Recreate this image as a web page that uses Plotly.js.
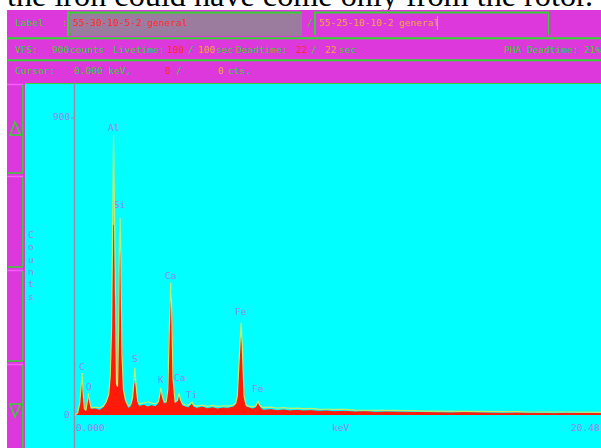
<!DOCTYPE html>
<html>
<head>
<meta charset="utf-8">
<script src="https://cdn.plot.ly/plotly-3.0.1.min.js"></script>
<style>
  html, body { margin: 0; padding: 0; background: #ffffff; width: 601px; height: 448px; overflow: hidden; }
  #caption { position: absolute; left: 0; top: 0; }
  #chart { position: absolute; left: 0; top: 0; width: 601px; height: 448px; }
</style>
</head>
<body>
<svg id="caption" width="601" height="20">
  <text x="7" y="6" font-family="Liberation Serif" font-size="32" textLength="586" lengthAdjust="spacingAndGlyphs">the iron could have come only from the rotor.</text>
</svg>
<div id="chart"></div>
<script>
// ---- spectrum data (energy in keV, counts per channel) ----
const energyKeV = [
  0.00, 0.10, 0.18, 0.23, 0.277, 0.31, 0.36, 0.42, 0.47, 0.525, 0.56, 0.62,
  0.80, 0.95, 1.10, 1.20, 1.30, 1.36, 1.41, 1.45, 1.487, 1.52, 1.56, 1.60,
  1.64, 1.68, 1.71, 1.740, 1.77, 1.81, 1.87, 1.95, 2.05, 2.15, 2.22, 2.27,
  2.308, 2.35, 2.42, 2.50, 2.65, 2.80, 2.95, 3.10, 3.22, 3.27, 3.313, 3.36,
  3.43, 3.52, 3.58, 3.64, 3.691, 3.73, 3.78, 3.86, 3.95, 4.012, 4.06, 4.14,
  4.25, 4.38, 4.46, 4.510, 4.56, 4.70, 4.90, 5.10, 5.30, 5.50, 5.70, 5.90,
  6.10, 6.20, 6.26, 6.33, 6.403, 6.45, 6.52, 6.60, 6.72, 6.85, 6.98, 7.057,
  7.12, 7.25, 7.55, 7.80, 8.05, 8.30, 8.55, 8.80, 9.10, 9.40, 9.70, 10.0,
  10.4, 10.8, 11.2, 11.6, 12.0, 12.5, 13.0, 13.5, 14.0, 14.5, 15.0, 15.5,
  16.0, 16.5, 17.0, 17.5, 18.0, 18.5, 19.0, 19.5, 20.0, 20.48
];
// sample 55-30-10-5-2 (filled)
const countsSampleA = [
  0, 4, 24, 70, 106, 60, 16, 10, 34, 62, 40, 18,
  18, 14, 22, 34, 55, 100, 200, 470, 574, 450, 180, 88,
  80, 200, 420, 492, 400, 160, 65, 38, 20, 24, 40, 80,
  97, 70, 30, 26, 30, 24, 28, 25, 34, 60, 75, 55,
  34, 34, 70, 250, 378, 300, 100, 34, 40, 60, 42, 28,
  24, 22, 28, 33, 24, 20, 24, 19, 22, 18, 21, 20,
  24, 30, 50, 150, 236, 180, 50, 24, 20, 18, 22, 36,
  24, 14, 16, 13, 15, 12, 14, 12, 13, 11, 12, 10,
  11, 9, 10, 8, 9, 8, 7, 8, 7, 6, 7, 6,
  6, 5, 6, 5, 5, 4, 5, 4, 4, 4
];
// sample 55-25-10-10-2 (overlay outline)
const countsSampleB = [
  0, 6, 34, 88, 127, 70, 20, 14, 40, 66, 44, 22,
  24, 22, 28, 40, 62, 120, 260, 650, 846, 640, 230, 95,
  86, 250, 520, 595, 480, 190, 75, 44, 28, 32, 52, 110,
  142, 95, 40, 34, 38, 40, 36, 34, 40, 66, 82, 60,
  40, 40, 78, 270, 399, 320, 110, 40, 44, 66, 48, 34,
  31, 30, 34, 39, 31, 27, 30, 26, 29, 26, 28, 27,
  30, 36, 58, 175, 278, 210, 58, 30, 26, 25, 28, 42,
  30, 22, 24, 21, 22, 20, 21, 19, 20, 18, 18, 16,
  17, 15, 15, 14, 14, 13, 13, 12, 12, 11, 11, 10,
  11, 10, 10, 9, 10, 9, 9, 8, 8, 8
];
// identified lines
const peakNames = ["C", "O", "Al", "Si", "S", "K", "Ca", "Ca", "Ti", "Fe", "Fe"];
const peakKeV   = [0.277, 0.525, 1.487, 1.740, 2.308, 3.313, 3.691, 4.012, 4.510, 6.403, 7.057];

// axis tick values and labels
const yTickVals = [900, 0];
const yTickText = ["900", "0"];
const xTickVals = [0, 20.48];
const xTickText = ["0.000", "20.48"];
const xAxisName = "keV";
const yAxisName = "Counts";

// acquisition header
const sampleNames = ["55-30-10-5-2 general", "55-25-10-10-2 general"];
const vfsCounts = 900;
const livetimeSec = [100, 100];
const deadtimeSec = [22, 22];
const phaDeadtime = 21;
const cursorKeV = "0.000";
const cursorCounts = [0, 0];

// ---- page geometry (pixels) ----
const W = 601, H = 448, L = 75, R = 0, T = 117, B = 33;
const PW = W - L - R, PH = H - T - B;
const PX_PER_KEV = 25.93;
const px = x => (x - L) / PW;
const py = y => (H - B - y) / PH;
const kevToPaper = e => e * PX_PER_KEV / PW;

const MAGENTA = '#dc38dc', CYAN = '#00ffff', GREEN = '#34d234', PINK = '#ff5cff';
const BOX1 = '#9c7c9e', RED_TXT = '#ff2a2a', ORANGE_TXT = '#f2a83a', LAVENDER = '#9a84f4';
const SPEC_RED = '#ff1a0a', SPEC_OVER = '#c0ec70', AXIS_LINE = '#a08aa8';
const MONO = 'DejaVu Sans Mono, monospace';

function rect(x0, y0, x1, y1, fill) {
  return { type: 'rect', xref: 'paper', yref: 'paper', layer: 'below',
    x0: px(x0), x1: px(x1), y0: py(y1), y1: py(y0), fillcolor: fill, line: { width: 0 } };
}
function seg(x0, y0, x1, y1, color, w) {
  return { type: 'line', xref: 'paper', yref: 'paper', layer: 'below',
    x0: px(x0), x1: px(x1), y0: py(y0), y1: py(y1), line: { color: color, width: w } };
}
function path(d, color, w) {
  return { type: 'path', xref: 'paper', yref: 'paper', layer: 'below', path: d,
    line: { color: color, width: w }, fillcolor: 'rgba(0,0,0,0)' };
}
function txt(x, y, s, color, anchor) {
  return { xref: 'paper', yref: 'paper', x: px(x), y: py(y), text: s, showarrow: false,
    xanchor: anchor || 'left', yanchor: 'middle', borderpad: 0,
    font: { family: MONO, size: 9.5, color: color } };
}
// closed polygon from page-pixel points
function tri(points) {
  return points.map((p, i) => (i ? 'L' : 'M') + px(p[0]).toFixed(5) + ',' + py(p[1]).toFixed(5)).join(' ') + ' Z';
}

const shapes = [
  // panel background and spectrum window
  rect(7, 10, 601, 448, MAGENTA),
  rect(25, 83, 601, 448, CYAN),
  seg(25, 83.5, 601, 83.5, GREEN, 1),
  // label boxes
  rect(67, 12, 302, 36, BOX1),
  seg(67, 12.5, 302, 12.5, GREEN, 2),
  seg(68, 12, 68, 36, GREEN, 2),
  seg(314, 12.5, 549, 12.5, GREEN, 2),
  seg(315, 12, 315, 35, GREEN, 2),
  seg(548.5, 12, 548.5, 35, GREEN, 1),
  seg(437.5, 16, 437.5, 30, ORANGE_TXT, 1),
  // row separators
  seg(7, 38.3, 601, 38.3, GREEN, 2),
  seg(7, 60.3, 601, 60.3, GREEN, 2),
  // left control strip
  seg(7, 84.5, 23, 84.5, PINK, 1.5),
  seg(22.8, 85, 22.8, 173, GREEN, 1.5),
  seg(8, 173, 23, 173, GREEN, 1.5),
  seg(7, 176.5, 23, 176.5, PINK, 1.5),
  seg(22.8, 177, 22.8, 267, GREEN, 1.5),
  seg(8, 267, 23, 267, GREEN, 1.5),
  seg(7, 270.5, 23, 270.5, PINK, 1.5),
  seg(22.8, 271, 22.8, 361, GREEN, 1.5),
  seg(8, 361, 23, 361, GREEN, 1.5),
  seg(7, 364.5, 23, 364.5, PINK, 1.5),
  seg(22.8, 365, 22.8, 448, GREEN, 1.5),
  path(tri([[15, 122], [10, 135], [20.5, 135]]), GREEN, 1.5),
  path(tri([[10, 404], [20.5, 404], [15, 417]]), GREEN, 1.5),
  // counts axis line and its top tick
  seg(74.5, 83, 74.5, 448, AXIS_LINE, 1.5),
  seg(71, 118, 75, 118, AXIS_LINE, 1)
];

const annotations = [
  // row 1: sample labels
  txt(14, 23, 'Label', GREEN),
  txt(61, 23, ':', GREEN),
  txt(72, 23, sampleNames[0], RED_TXT),
  txt(306, 23, '/', GREEN),
  txt(318, 23, sampleNames[1], ORANGE_TXT),
  // row 2: acquisition
  txt(14, 49.5, 'VFS:', GREEN),
  txt(51, 49.5, String(vfsCounts), GREEN),
  txt(69, 49.5, 'counts', GREEN),
  txt(112, 49.5, 'Livetime:', GREEN),
  txt(166, 49.5, String(livetimeSec[0]), RED_TXT),
  txt(187, 49.5, '/', GREEN),
  txt(197, 49.5, String(livetimeSec[1]), ORANGE_TXT),
  txt(215, 49.5, 'sec', GREEN),
  txt(235, 49.5, 'Deadtime:', GREEN),
  txt(295, 49.5, String(deadtimeSec[0]), RED_TXT),
  txt(310, 49.5, '/', GREEN),
  txt(324, 49.5, String(deadtimeSec[1]), ORANGE_TXT),
  txt(338, 49.5, 'sec', GREEN),
  txt(503, 49.5, 'PHA Deadtime: ' + phaDeadtime + '%', GREEN),
  // row 3: cursor readout
  txt(14, 71, 'Cursor:', GREEN),
  txt(73, 71, cursorKeV + ' keV,', GREEN),
  txt(164, 71, String(cursorCounts[0]), RED_TXT),
  txt(175, 71, '/', GREEN),
  txt(217, 71, String(cursorCounts[1]), ORANGE_TXT),
  txt(227, 71, 'cts.', GREEN),
  // vertical axis name
  { xref: 'paper', yref: 'paper', x: px(31), y: py(265), showarrow: false,
    text: yAxisName.split('').join('<br>'), xanchor: 'center', yanchor: 'middle',
    font: { family: MONO, size: 9.5, color: LAVENDER } }
];

// count tick labels
yTickVals.forEach((v, i) => annotations.push({
  xref: 'paper', yref: 'y', x: px(71), y: v, text: yTickText[i], showarrow: false,
  xanchor: 'right', yanchor: 'middle', yshift: 1, borderpad: 0,
  font: { family: MONO, size: 9.5, color: LAVENDER }
}));
// energy tick labels and axis name; the full-scale label is kept inside the window
xTickVals.forEach((v, i) => annotations.push({
  xref: 'paper', yref: 'paper', x: Math.min(kevToPaper(v), px(600.5)), y: py(427.5), text: xTickText[i], showarrow: false,
  xanchor: i === 0 ? 'left' : 'right', yanchor: 'middle', borderpad: 0,
  font: { family: MONO, size: 9.5, color: LAVENDER }
}));
annotations.push({
  xref: 'paper', yref: 'paper', x: kevToPaper(xTickVals[1] / 2), y: py(427.5), text: xAxisName, showarrow: false,
  xanchor: 'center', yanchor: 'middle', borderpad: 0,
  font: { family: MONO, size: 9.5, color: LAVENDER }
});

// element markers above each line (pixel lift above the overlay peak)
const markerLift = [6, 7, 7, 13, 9, 8, 7, 16, 8, 11, 13];
peakNames.forEach((name, i) => {
  const k = energyKeV.indexOf(peakKeV[i]);
  annotations.push({
    xref: 'x', yref: 'y', x: peakKeV[i], y: countsSampleB[k], text: name, showarrow: false,
    xanchor: 'center', yanchor: 'middle', yshift: markerLift[i], borderpad: 0,
    font: { family: MONO, size: 9.5, color: LAVENDER }
  });
});

const traces = [
  { type: 'scatter', mode: 'lines', x: energyKeV, y: countsSampleA, name: sampleNames[0],
    line: { color: SPEC_RED, width: 1 }, fill: 'tozeroy', fillcolor: SPEC_RED, hoverinfo: 'skip' },
  { type: 'scatter', mode: 'lines', x: energyKeV, y: countsSampleB, name: sampleNames[1],
    line: { color: SPEC_OVER, width: 1.2 }, hoverinfo: 'skip' }
];

const layout = {
  width: W, height: H,
  margin: { l: L, r: R, t: T, b: B, pad: 0 },
  paper_bgcolor: 'rgba(0,0,0,0)',
  plot_bgcolor: 'rgba(0,0,0,0)',
  showlegend: false,
  xaxis: { range: [0, PW / PX_PER_KEV], visible: false, fixedrange: true },
  yaxis: { range: [0, 900], visible: false, fixedrange: true },
  shapes: shapes,
  annotations: annotations
};

Plotly.newPlot('chart', traces, layout, { staticPlot: true, displayModeBar: false });
</script>
</body>
</html>
